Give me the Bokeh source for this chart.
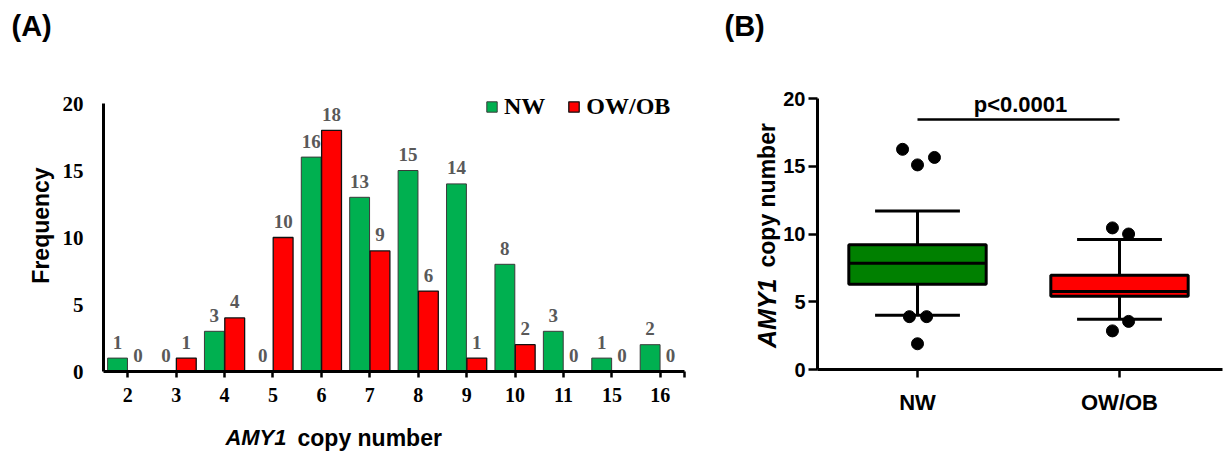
import math
from bokeh.plotting import figure
from bokeh.models import (Range1d, Label, Legend, LegendItem, LinearAxis,
                          ColumnDataSource, FixedTicker)
from bokeh.layouts import row
from bokeh.embed import file_html
from bokeh.resources import INLINE
from bokeh.core.properties import value

# ---------------- data ----------------
copy_numbers = ["2", "3", "4", "5", "6", "7", "8", "9", "10", "11", "15", "16"]
nw_counts = [1, 0, 3, 0, 16, 13, 15, 14, 8, 3, 1, 2]
owob_counts = [0, 1, 4, 10, 18, 9, 6, 1, 2, 0, 0, 0]
freq_ticks = [0, 5, 10, 15, 20]

groups = ["NW", "OW/OB"]
box_q1 = [6.3, 5.4]
box_median = [7.85, 5.75]
box_q3 = [9.2, 6.95]
whisker_low = [4.0, 3.7]
whisker_high = [11.7, 9.6]
outlier_group = ["NW", "NW", "NW", "NW", "NW", "NW", "OW/OB", "OW/OB", "OW/OB", "OW/OB"]
outlier_value = [16.25, 15.1, 15.65, 3.9, 3.9, 1.9, 10.45, 10.0, 3.55, 2.85]
copy_ticks = [0, 5, 10, 15, 20]
p_text = "p<0.0001"

# ---------------- styles ----------------
GREEN_A = "#00B050"
RED = "#FF0000"
GREEN_B = "#008000"
SERIF = "Liberation Serif"
SANS = "Liberation Sans"

# ================= Panel A =================
# The plot frame covers the whole canvas; axes are drawn at fixed locations
# so that titles outside the data area stay visible.
A_W, A_H = 700, 455
A_LEFT_PX, A_RIGHT_PX = 103, 684      # extent of category area
A_ZERO_PX, A_TOP_PX = 371, 103        # pixel rows of y=0 and y=20
n_cat = len(copy_numbers)
uA = (A_RIGHT_PX - A_LEFT_PX) / n_cat
vA = (A_ZERO_PX - A_TOP_PX) / 20.0

def ax(px):
    return -0.5 + (px - A_LEFT_PX) / uA
def ay(py):
    return (A_ZERO_PX - py) / vA

pA = figure(width=A_W, height=A_H, title=None,
            x_range=Range1d(ax(0), ax(A_W)), y_range=Range1d(ay(A_H), ay(0)),
            x_axis_location=None, y_axis_location=None,
            output_backend="svg", toolbar_location=None,
            min_border=0, min_border_left=0, min_border_right=0,
            min_border_top=0, min_border_bottom=0)
pA.outline_line_color = None
pA.grid.visible = False

idx = list(range(n_cat))
off = 0.21
srcA = ColumnDataSource(dict(
    xn=[i - off for i in idx], xo=[i + off for i in idx],
    nw=nw_counts, ob=owob_counts,
    nw_txt=[str(v) for v in nw_counts], ob_txt=[str(v) for v in owob_counts]))

r_nw = pA.vbar(x="xn", top="nw", width=0.41, source=srcA,
               fill_color=GREEN_A, line_color="#3a3a3a", line_width=1)
r_ob = pA.vbar(x="xo", top="ob", width=0.41, source=srcA,
               fill_color=RED, line_color="#111111", line_width=1.3)

txt_kw = dict(source=srcA, text_align="center", text_baseline="alphabetic",
              y_offset=-16, text_font=value(SERIF), text_font_style="bold",
              text_font_size="19px", text_color="#595959")
pA.text(x="xn", y="nw", text="nw_txt", **txt_kw)
pA.text(x="xo", y="ob", text="ob_txt", **txt_kw)

end_tick = n_cat - 0.5
overrides = {i: c for i, c in zip(idx, copy_numbers)}
overrides[end_tick] = ""
xa = LinearAxis(fixed_location=0, bounds=(-0.5, n_cat - 0.5),
                ticker=FixedTicker(ticks=idx + [end_tick]),
                major_label_overrides=overrides)
xa.axis_line_width = 3
xa.axis_line_color = "black"
xa.major_tick_out = 6
xa.major_tick_in = 0
xa.major_tick_line_width = 2.5
xa.minor_tick_line_color = None
xa.major_label_standoff = 10
xa.major_label_text_font = SERIF
xa.major_label_text_font_style = "bold"
xa.major_label_text_font_size = "20px"
xa.major_label_text_color = "black"
pA.add_layout(xa, "below")

ya = LinearAxis(fixed_location=-0.5, bounds=(0, 20), ticker=FixedTicker(ticks=freq_ticks))
ya.axis_line_width = 3
ya.axis_line_color = "black"
ya.major_tick_out = 0
ya.major_tick_in = 0
ya.minor_tick_line_color = None
ya.major_label_standoff = 20
ya.major_label_text_font = SERIF
ya.major_label_text_font_style = "bold"
ya.major_label_text_font_size = "21px"
ya.major_label_text_color = "black"
pA.add_layout(ya, "left")

legend = Legend(items=[LegendItem(label="NW", renderers=[r_nw]),
                       LegendItem(label="OW/OB", renderers=[r_ob])],
                orientation="horizontal", location=(485, A_H - 120),
                margin=0, padding=0, spacing=22, label_standoff=6,
                glyph_width=13, glyph_height=13,
                border_line_color=None, background_fill_alpha=0,
                label_text_font=SERIF, label_text_font_style="bold",
                label_text_font_size="24px", label_text_color="black")
pA.add_layout(legend)

pA.add_layout(Label(x=ax(11), y=ay(25), text="(A)", text_font=SANS,
                    text_font_style="bold", text_font_size="29px",
                    text_align="left", text_baseline="alphabetic", text_color="black"))
pA.add_layout(Label(x=ax(40), y=ay(225), text="Frequency", angle=math.pi / 2,
                    text_font=SANS, text_font_style="bold", text_font_size="23px",
                    text_align="center", text_baseline="alphabetic", text_color="black"))
pA.add_layout(Label(x=ax(286), y=ay(437), text="AMY1", text_font=SANS,
                    text_font_style="bold italic", text_font_size="22px",
                    text_align="right", text_baseline="alphabetic", text_color="black"))
pA.add_layout(Label(x=ax(297), y=ay(437), text="copy number", text_font=SANS,
                    text_font_style="bold", text_font_size="23px",
                    text_align="left", text_baseline="alphabetic", text_color="black"))

# ================= Panel B =================
B_W, B_H = 528, 455
B_X0 = 700                      # page offset of panel B
B_CAT0_PX, B_CAT1_PX = 917, 1119  # page x of the two group centres
B_AX_L, B_AX_R = 817, 1222        # page x extent of the x-axis line
B_ZERO_PX, B_TOP_PX = 369, 98
uB = B_CAT1_PX - B_CAT0_PX
vB = (B_ZERO_PX - B_TOP_PX) / 20.0

def bx(px):  # page px -> data
    return (px - B_CAT0_PX) / uB
def by(py):
    return (B_ZERO_PX - py) / vB

pB = figure(width=B_W, height=B_H, title=None,
            x_range=Range1d(bx(B_X0), bx(B_X0 + B_W)), y_range=Range1d(by(B_H), by(0)),
            x_axis_location=None, y_axis_location=None,
            output_backend="svg", toolbar_location=None,
            min_border=0, min_border_left=0, min_border_right=0,
            min_border_top=0, min_border_bottom=0)
pB.outline_line_color = None
pB.grid.visible = False

gidx = list(range(len(groups)))
box_half = 0.34
cap_half = 0.21
lw = 3
srcB = ColumnDataSource(dict(x=gidx, xl=[g - box_half for g in gidx], xr=[g + box_half for g in gidx],
                             cl=[g - cap_half for g in gidx], cr=[g + cap_half for g in gidx],
                             q1=box_q1, med=box_median, q3=box_q3,
                             lo=whisker_low, hi=whisker_high, fill=[GREEN_B, RED]))

pB.segment(x0="x", x1="x", y0="q3", y1="hi", source=srcB, line_color="black", line_width=lw)
pB.segment(x0="x", x1="x", y0="lo", y1="q1", source=srcB, line_color="black", line_width=lw)
pB.segment(x0="cl", x1="cr", y0="hi", y1="hi", source=srcB, line_color="black", line_width=lw)
pB.segment(x0="cl", x1="cr", y0="lo", y1="lo", source=srcB, line_color="black", line_width=lw)
pB.quad(left="xl", right="xr", bottom="q1", top="q3", source=srcB,
        fill_color="fill", line_color="black", line_width=lw)
pB.segment(x0="xl", x1="xr", y0="med", y1="med", source=srcB, line_color="black", line_width=lw)

# outliers (small horizontal spread as in the reference, to avoid overlap)
spread = [-0.074, 0.0, 0.084, -0.04, 0.045, 0.0, -0.035, 0.045, 0.045, -0.035]
out_x = [groups.index(g) + s for g, s in zip(outlier_group, spread)]
pB.scatter(x=out_x, y=outlier_value, size=12, marker="circle",
           fill_color="black", line_color="black")

# significance bracket
sig_y = 18.45
pB.segment(x0=[gidx[0]], x1=[gidx[1]], y0=[sig_y], y1=[sig_y],
           line_color="black", line_width=2.5)

xb = LinearAxis(fixed_location=0, bounds=(bx(B_AX_L), bx(B_AX_R)),
                ticker=FixedTicker(ticks=gidx),
                major_label_overrides={i: g for i, g in zip(gidx, groups)})
xb.axis_line_width = 3
xb.axis_line_color = "black"
xb.major_tick_out = 8
xb.major_tick_in = 0
xb.major_tick_line_width = 2.5
xb.minor_tick_line_color = None
xb.major_label_standoff = 12
xb.major_label_text_font = SANS
xb.major_label_text_font_style = "bold"
xb.major_label_text_font_size = "22px"
xb.major_label_text_color = "black"
pB.add_layout(xb, "below")

yb = LinearAxis(fixed_location=bx(B_AX_L), bounds=(0, 20), ticker=FixedTicker(ticks=copy_ticks))
yb.axis_line_width = 3
yb.axis_line_color = "black"
yb.major_tick_out = 9
yb.major_tick_in = 0
yb.major_tick_line_width = 2.5
yb.minor_tick_line_color = None
yb.major_label_standoff = 3
yb.major_label_text_font = SANS
yb.major_label_text_font_style = "bold"
yb.major_label_text_font_size = "20px"
yb.major_label_text_color = "black"
pB.add_layout(yb, "left")

pB.add_layout(Label(x=bx(1020), y=by(104), text=p_text, text_font=SANS,
                    text_font_style="bold", text_font_size="22px",
                    text_align="center", text_baseline="alphabetic", text_color="black"))
pB.add_layout(Label(x=bx(724), y=by(25), text="(B)", text_font=SANS,
                    text_font_style="bold", text_font_size="29px",
                    text_align="left", text_baseline="alphabetic", text_color="black"))
pB.add_layout(Label(x=bx(766), y=by(278), text="AMY1", angle=math.pi / 2,
                    text_font=SANS, text_font_style="bold italic", text_font_size="25px",
                    text_align="right", text_baseline="alphabetic", text_color="black"))
pB.add_layout(Label(x=bx(766), y=by(267), text="copy number", angle=math.pi / 2,
                    text_font=SANS, text_font_style="bold", text_font_size="23px",
                    text_align="left", text_baseline="alphabetic", text_color="black"))

layout = row(pA, pB)
open("out.html", "w").write(file_html(layout, INLINE))
